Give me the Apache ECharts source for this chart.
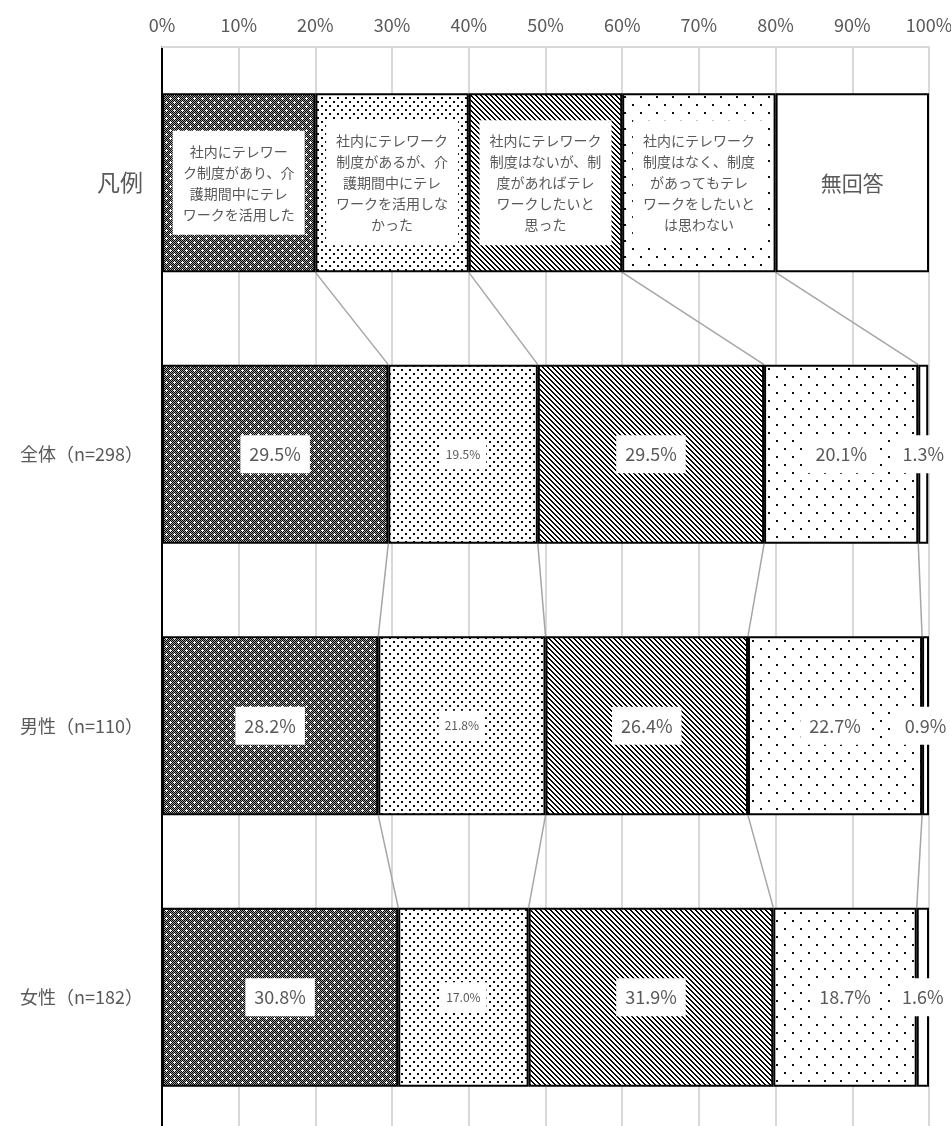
<!DOCTYPE html>
<html>
<head>
<meta charset="utf-8">
<script src="https://cdn.jsdelivr.net/npm/echarts@6/dist/echarts.min.js"></script>
<style>
  html, body { margin: 0; padding: 0; background: #fff; }
  #chart { width: 951px; height: 1126px; }
</style>
</head>
<body>
<div id="chart"></div>
<script>
// データ
const categories = ['凡例', '全体（n=298）', '男性（n=110）', '女性（n=182）'];
const seriesNames = [
  '社内にテレワーク制度があり、介護期間中にテレワークを活用した',
  '社内にテレワーク制度があるが、介護期間中にテレワークを活用しなかった',
  '社内にテレワーク制度はないが、制度があればテレワークしたいと思った',
  '社内にテレワーク制度はなく、制度があってもテレワークをしたいとは思わない',
  '無回答'
];
const legendLabels = [
  '社内にテレワー\nク制度があり、介\n護期間中にテレ\nワークを活用した',
  '社内にテレワーク\n制度があるが、介\n護期間中にテレ\nワークを活用しな\nかった',
  '社内にテレワーク\n制度はないが、制\n度があればテレ\nワークしたいと\n思った',
  '社内にテレワーク\n制度はなく、制度\nがあってもテレ\nワークをしたいと\nは思わない',
  '無回答'
];
const legendShares = [20, 20, 20, 20, 20];
const overall = [29.5, 19.5, 29.5, 20.1, 1.3];
const male = [28.2, 21.8, 26.4, 22.7, 0.9];
const female = [30.8, 17.0, 31.9, 18.7, 1.6];
const xTicks = [0, 10, 20, 30, 40, 50, 60, 70, 80, 90, 100];

const rows = [legendShares, overall, male, female];
const textColor = '#595959';
const font = '"Noto Sans CJK JP", "Noto Sans", sans-serif';
const barRatio = 0.66;

// 模様（Excel風パターン）
function makePattern (w, h, draw) {
  const c = document.createElement('canvas');
  c.width = w; c.height = h;
  const ctx = c.getContext('2d');
  ctx.fillStyle = '#fff';
  ctx.fillRect(0, 0, w, h);
  draw(ctx, w, h);
  return { image: c, repeat: 'repeat' };
}
const patterns = [
  // 濃い網目
  makePattern(8, 8, function (ctx, w, h) {
    for (let y = 0; y < h; y++) {
      for (let x = 0; x < w; x++) {
        ctx.fillStyle = (x + y) % 2 === 0 ? '#000' : '#9a9a9a';
        ctx.fillRect(x, y, 1, 1);
      }
    }
    ctx.fillStyle = '#fff';
    [[2, 2], [6, 6]].forEach(function (p) {
      ctx.fillRect(p[0] - 1, p[1], 3, 1);
      ctx.fillRect(p[0], p[1] - 1, 1, 3);
    });
  }),
  // 細かい点
  makePattern(8, 8, function (ctx) {
    ctx.fillStyle = '#111';
    ctx.fillRect(1, 1, 2, 2);
    ctx.fillRect(5, 5, 2, 2);
  }),
  // 斜線
  makePattern(5, 5, function (ctx, w, h) {
    ctx.fillStyle = '#000';
    for (let y = 0; y < h; y++) {
      for (let x = 0; x < w; x++) {
        const d = ((x - y) % 5 + 5) % 5;
        if (d === 0 || d === 1) ctx.fillRect(x, y, 1, 1);
      }
    }
  }),
  // まばらな点
  makePattern(16, 16, function (ctx) {
    ctx.fillStyle = '#111';
    ctx.fillRect(0, 0, 2, 2);
    ctx.fillRect(8, 8, 2, 2);
  }),
  '#ffffff'
];

// 系列線
const seriesLineData = [];
for (let r = 0; r < rows.length - 1; r++) {
  let a = 0, b = 0;
  for (let k = 0; k < 4; k++) {
    a += rows[r][k];
    b += rows[r + 1][k];
    seriesLineData.push([a, r, b, r + 1]);
  }
}

const barSeries = seriesNames.map(function (name, k) {
  const small = k === 1;
  return {
    name: name,
    type: 'bar',
    stack: 'total',
    barWidth: (barRatio * 100) + '%',
    itemStyle: { color: patterns[k], borderColor: '#000', borderWidth: 2 },
    label: {
      show: true,
      position: 'inside',
      color: textColor,
      fontFamily: font,
      fontSize: small ? 12 : 18,
      backgroundColor: '#fff',
      padding: small ? [9, 6] : [10, 9],
      formatter: function (p) { return p.value.toFixed(1) + '%'; }
    },
    data: rows.map(function (row, r) {
      if (r === 0) {
        return {
          value: row[k],
          label: {
            formatter: legendLabels[k],
            fontSize: k === 4 ? 21 : 14,
            lineHeight: 21,
            padding: k === 4 ? 0 : [10, 10],
            backgroundColor: k === 4 ? 'transparent' : '#fff'
          }
        };
      }
      return row[k];
    })
  };
});

const chart = echarts.init(document.getElementById('chart'));
chart.setOption({
  animation: false,
  grid: { left: 162, right: 22, top: 47, bottom: -7, outerBoundsMode: 'none' },
  xAxis: {
    type: 'value',
    position: 'top',
    min: 0,
    max: 100,
    interval: 10,
    axisLine: { show: true, lineStyle: { color: '#d9d9d9', width: 2 } },
    axisTick: { show: false },
    axisLabel: {
      color: textColor,
      fontFamily: font,
      fontSize: 18,
      margin: 13,
      formatter: function (v) { return xTicks.indexOf(v) >= 0 ? v + '%' : ''; }
    },
    splitLine: { lineStyle: { color: '#d9d9d9', width: 2 } }
  },
  yAxis: {
    type: 'category',
    inverse: true,
    data: categories,
    axisLine: { lineStyle: { color: '#000', width: 2 } },
    axisTick: { show: false },
    axisLabel: {
      color: textColor,
      fontFamily: font,
      fontSize: 18,
      margin: 19,
      formatter: function (v, i) { return i === 0 ? '{big|' + v + '}' : '{cat|' + v + '}'; },
      rich: {
        big: { fontSize: 23, fontFamily: font, color: textColor },
        cat: { fontSize: 18, fontFamily: font, color: textColor }
      }
    }
  },
  series: barSeries.concat([{
    type: 'custom',
    silent: true,
    encode: { x: [0, 2], y: [1, 3] },
    renderItem: function (params, api) {
      const p1 = api.coord([api.value(0), api.value(1)]);
      const p2 = api.coord([api.value(2), api.value(3)]);
      const h = api.size([0, 1])[1] * barRatio / 2;
      return {
        type: 'line',
        shape: { x1: p1[0], y1: p1[1] + h, x2: p2[0], y2: p2[1] - h },
        style: { stroke: '#a6a6a6', lineWidth: 1.5 }
      };
    },
    data: seriesLineData
  }])
});
</script>
</body>
</html>
